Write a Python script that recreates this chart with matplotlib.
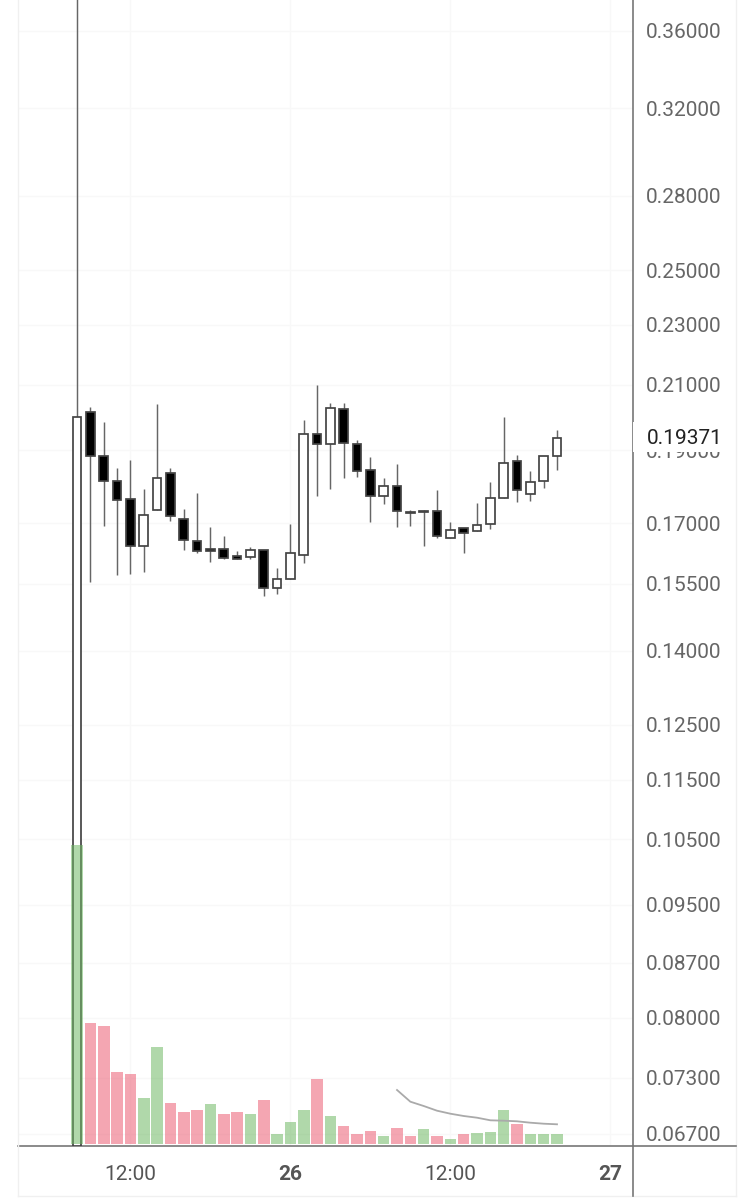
import matplotlib
matplotlib.use("Agg")
import matplotlib.pyplot as plt
from matplotlib.lines import Line2D
from matplotlib.patches import Rectangle
from matplotlib.ticker import NullLocator

plt.rcParams['font.family'] = ['Roboto', 'DejaVu Sans']

# Hours since 08:00 on the 25th
hours = list(range(37))
highs = [.40000, .20306, .19845, .18503, .18711, .17911, .20389, .18503, .17374, .17803, .16903, .16673, .16296,
         .16396, .16329, .15870, .16972, .19887, .20986, .20411, .20411, .19289, .18797, .18205, .18598, .17347,
         .17347, .17875, .17024, .16885, .17533, .18094, .19998, .18855, .18401, .18826, .19597]
opens = [.06577, .20151, .18835, .18122, .17631, .16421, .17347, .18345, .17117, .16538, .16346, .16339, .16164,
         .16139, .16329, .15395, .15620, .16204, .19477, .19173, .20235, .19191, .18438, .17713, .17993, .17303,
         .17321, .17313, .16621, .16870, .16793, .16988, .17667, .18699, .17784, .18138, .18843]
closes = [.19998, .18843, .18130, .17604, .16421, .17207, .18213, .17197, .16578, .16296, .16304, .16129, .16097,
          .16321, .15395, .15606, .16239, .19477, .19173, .20257, .19211, .18410, .17713, .17993, .17321, .17276,
          .17287, .16673, .16834, .16757, .16946, .17675, .18626, .17875, .18111, .18826, .19367]
lows = [.06577, .15535, .16936, .15709, .15740, .15788, .17347, .17050, .16321, .16239, .16016, .16104, .16097,
        .16104, .15222, .15269, .15620, .16006, .17730, .17919, .18213, .18250, .17024, .17514, .16903, .16921,
        .16413, .16614, .16621, .16247, .16793, .16852, .17667, .17551, .17585, .17930, .18430]
volumes = [299, 121, 118, 72, 70, 46, 97, 41, 32, 34, 40, 30, 32, 30, 44, 10, 22, 34, 65, 28, 18, 10, 13, 8, 16,
           8, 15, 8, 5, 10, 11, 12, 34, 20, 10, 10, 10]
volume_sides = list("GPPPPGGPPPGPPGPGGGPGPPPGPPGPGPGGGPGGG")
ma_hours = [24, 25, 26, 27, 28, 29, 30, 31, 32, 33, 34, 35, 36]
ma_values = [54, 42.3, 38, 33.3, 30.3, 28, 26.3, 23.7, 23.3, 22.7, 21.3, 20.3, 19.7]

price_ticks = [.36, .32, .28, .25, .23, .21, .19, .17, .155, .14, .125, .115, .105, .095, .087, .08, .073, .067]
time_ticks = [4, 16, 28, 40]
time_labels = ['12:00', '26', '12:00', '27']
last_price = 0.19371

W, H = 754, 1200
L, R, T, B = 18, 633, 0, 1145.5
fig = plt.figure(figsize=(W / 100, H / 100), dpi=100, facecolor='white')
ax = fig.add_axes([L / W, 1 - B / H, (R - L) / W, (B - T) / H])

ax.set_yscale('log')
ax.set_ylim(0.06583, 0.3774)
ax.set_xlim(-4.43, 41.7)

# Volume axes first, because twinx moves the price labels
ax2 = ax.twinx()
ax2.axis('off')
ax2.set_ylim(-1.5, 1144)

ax.yaxis.set_minor_locator(NullLocator())
ax.yaxis.tick_right()
ax.set_yticks(price_ticks)
ax.set_yticklabels([f'{p:.5f}' for p in price_ticks], fontsize=15, color='#666666')
ax.minorticks_off()
ax.set_xticks(time_ticks)
ax.set_xticklabels(time_labels, fontsize=15, color='#555555')
for lab, txt in zip(ax.get_xticklabels(), time_labels):
    if txt in ('26', '27'):
        lab.set_fontweight('bold')
ax.tick_params(axis='y', length=0, pad=9.5)
ax.tick_params(axis='x', length=0, pad=14)
ax.grid(True, color='#f8f8f8', lw=1)
ax.set_axisbelow(True)
for s in ('top', 'left'):
    ax.spines[s].set_visible(False)
for s in ('right', 'bottom'):
    ax.spines[s].set_color('#777777')
    ax.spines[s].set_linewidth(1.2)

# Candles
ax.vlines(hours, lows, highs, color='#666666', lw=1.05, zorder=2)
for h, o, c in zip(hours, opens, closes):
    up = c >= o
    ax.bar(h, abs(c - o), bottom=min(o, c), width=0.66,
           facecolor='white' if up else 'black', edgecolor='#444444', linewidth=1.25, zorder=3)

# Volume
side_colors = {'G': (111 / 255, 184 / 255, 100 / 255), 'P': (235 / 255, 93 / 255, 115 / 255)}
ax2.bar(hours, volumes, width=0.87, color=[side_colors[s] for s in volume_sides],
        alpha=0.55, linewidth=0, zorder=1)
ax2.plot(ma_hours, ma_values, color='#aaaaaa', lw=1.3, zorder=2)

# Last price tag
ax2.add_patch(Rectangle((1.0, (B - 452) / (B - T)), (736 - R) / (R - L), 30 / (B - T),
                        transform=ax.transAxes, facecolor='white', edgecolor='none',
                        clip_on=False, zorder=5))
ax2.text(1 + 14 / (R - L), (B - 438) / (B - T), f'{last_price:.5f}', transform=ax.transAxes,
         ha='left', va='center', fontsize=15, color='#222222', zorder=6, clip_on=False)

# Outer frame
fx = lambda x: x / W
fy = lambda y: 1 - y / H
frame = '#f0f0f0'
for xs, ys, col, lw in [((18, 18), (0, 1196), frame, 1), ((736, 736), (0, 1196), frame, 1),
                        ((18, 736), (1196, 1196), frame, 1),
                        ((R, 736), (B, B), '#777777', 1.2), ((R, R), (B, 1196), '#777777', 1.2)]:
    fig.add_artist(Line2D([fx(xs[0]), fx(xs[1])], [fy(ys[0]), fy(ys[1])], color=col, lw=lw))

fig.savefig('out.png', dpi=100, facecolor='white')
